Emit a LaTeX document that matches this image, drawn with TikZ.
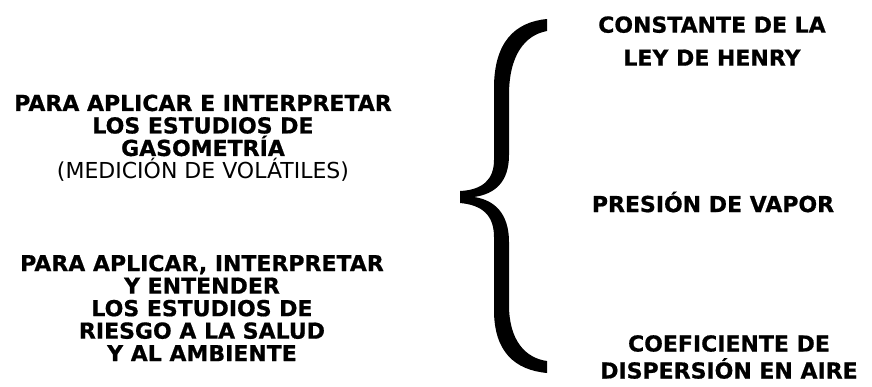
\documentclass[tikz,border=0pt]{standalone}
\usepackage{fontspec}
\setmainfont{DejaVu Sans}[BoldFeatures={FakeBold=0.7}]
\usepackage{tikz}

\begin{document}
\begin{tikzpicture}[x=1pt, y=-1pt,
	every node/.style={align=center, inner sep=0pt, font=\bfseries\fontsize{22}{22.5}\selectfont},
	wide/.style={font=\bfseries\fontsize{22}{33}\selectfont},
	mid/.style={font=\bfseries\fontsize{22}{27}\selectfont}]
	\useasboundingbox (0,0) rectangle (872,386);
	\node (gaso) at (203,138) {PARA APLICAR E INTERPRETAR\\LOS ESTUDIOS DE\\GASOMETRÍA\\{\mdseries (MEDICIÓN DE VOLÁTILES)}};
	\node (riesgo) at (202,308) {PARA APLICAR, INTERPRETAR\\Y ENTENDER\\LOS ESTUDIOS DE\\RIESGO A LA SALUD\\Y AL AMBIENTE};
	\fill (547,19) .. controls (515,22) and (494,42) .. (494,88) -- (494,160)
		.. controls (494,180) and (482,190) .. (460,191) -- (460,203)
		.. controls (482,205) and (494,215) .. (494,237) -- (494,310)
		.. controls (494,352) and (515,370) .. (547,373) -- (547,361)
		.. controls (525,358) and (509,340) .. (509,305) -- (509,242)
		.. controls (509,214) and (495,200) .. (474,197)
		.. controls (495,194) and (509,182) .. (509,155) -- (509,95)
		.. controls (509,55) and (525,35) .. (547,31) -- cycle;
	\node[wide] (henry) at (712,41) {CONSTANTE DE LA\\LEY DE HENRY};
	\node (vapor) at (713,202) {PRESIÓN DE VAPOR};
	\node[mid] (aire) at (729,357) {COEFICIENTE DE\\DISPERSIÓN EN AIRE};
\end{tikzpicture}
\end{document}
